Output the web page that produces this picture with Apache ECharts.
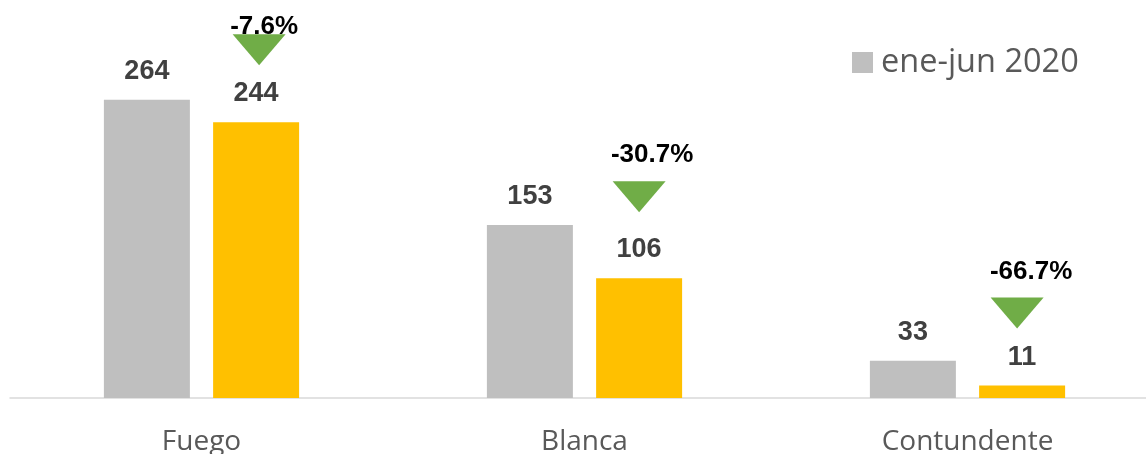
<!DOCTYPE html>
<html>
<head>
<meta charset="utf-8">
<script src="https://cdn.jsdelivr.net/npm/echarts@6/dist/echarts.min.js"></script>
<style>html,body{margin:0;padding:0;background:#fff;}#c{width:1146px;height:454px;}</style>
</head>
<body>
<div id="c"></div>
<script>
const categories = ['Fuego', 'Blanca', 'Contundente'];
const seriesNames = ['ene-jun 2020', 'ene-jun 2021'];
const values2020 = [264, 153, 33];
const values2021 = [244, 106, 11];
const changeLabels = ['-7.6%', '-30.7%', '-66.7%'];

const symOffsets = [[3, -72.5], [0, -81.5], [-5, -72.5]];
const lblOffsets = [[5, -23], [13, -42], [14, -41]];

const chart = echarts.init(document.getElementById('c'), null, {renderer: 'canvas'});
chart.setOption({
  animation: false,
  backgroundColor: '#ffffff',
  legend: {
    data: [seriesNames[0]],
    left: 847, top: 41,
    icon: 'rect', itemWidth: 21, itemHeight: 21,
    textStyle: {fontFamily: 'Open Sans', fontSize: 32.5, color: '#595959', padding: [0, 0, 0, 3]}
  },
  grid: {left: 10, width: 1149, top: 59, bottom: 56, containLabel: false, outerBoundsMode: 'none'},
  xAxis: {
    type: 'category', data: categories,
    axisLine: {lineStyle: {color: '#d9d9d9', width: 1.5}},
    axisTick: {show: false},
    axisLabel: {fontFamily: 'Open Sans', fontSize: 28, color: '#595959', margin: 30}
  },
  yAxis: {type: 'value', min: 0, max: 300, show: false, splitLine: {show: false}},
  series: [
    {
      name: seriesNames[0], type: 'bar', data: values2020, barWidth: 86, barGap: '27%',
      itemStyle: {color: '#bfbfbf'},
      label: {show: true, position: 'top', distance: 15, fontFamily: 'Liberation Sans', fontWeight: 'bold', fontSize: 27, color: '#404040'}
    },
    {
      name: seriesNames[1], type: 'bar', data: values2021, barWidth: 86, barGap: '27%',
      itemStyle: {color: '#ffc000'},
      label: {show: true, position: 'top', distance: 15, fontFamily: 'Liberation Sans', fontWeight: 'bold', fontSize: 27, color: '#404040'},
      markPoint: {
        symbol: 'path://M0,0L2,0L1,1Z',
        symbolSize: [53, 31],
        symbolKeepAspect: false,
        itemStyle: {color: '#70ad47'},
        label: {show: true, position: 'inside', fontFamily: 'Liberation Sans', fontWeight: 'bold', fontSize: 26, color: '#000000'},
        data: values2021.map((v, i) => ({
          coord: [i, v],
          symbolOffset: symOffsets[i],
          label: {formatter: changeLabels[i], offset: lblOffsets[i]}
        }))
      }
    }
  ]
});
</script>
</body>
</html>
